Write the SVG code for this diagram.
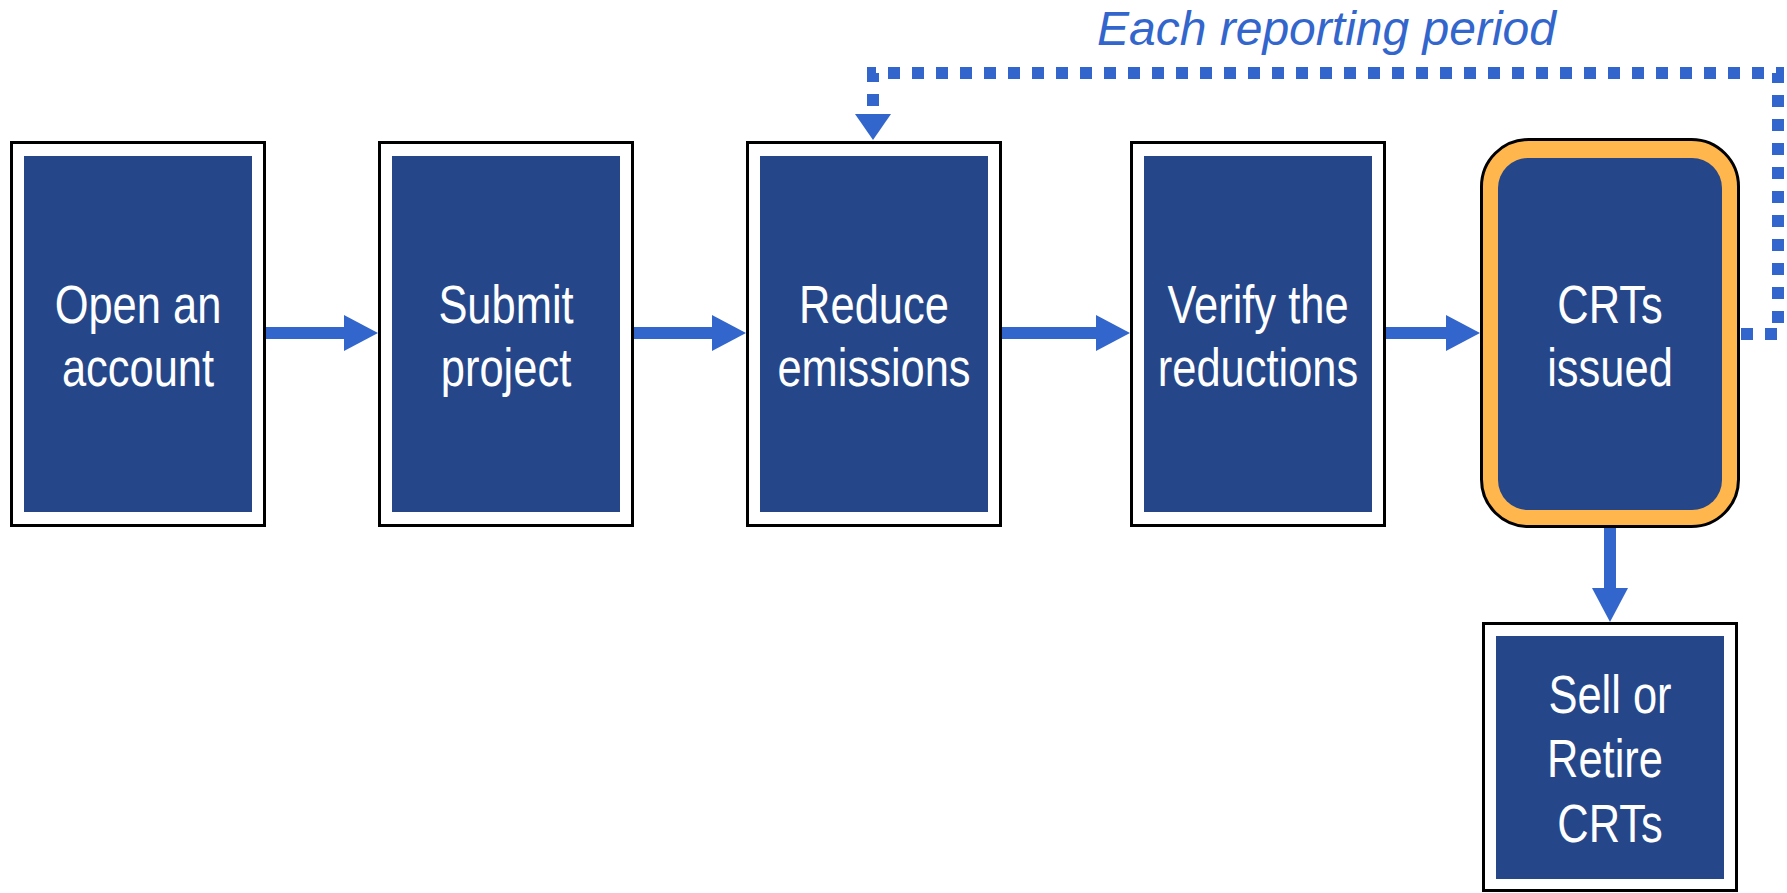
<svg xmlns="http://www.w3.org/2000/svg" width="1787" height="893" viewBox="0 0 1787 893">
<style>
.outer{fill:#ffffff;stroke:#000000;stroke-width:3}
.inner{fill:#25478A}
.lbl{font-family:"Liberation Sans Narrow","Arial Narrow","Liberation Sans",Arial,sans-serif;font-size:53px;fill:#ffffff;text-anchor:middle}
.conn{stroke:#3366CC;stroke-width:12;fill:none}
.dot{stroke:#3366CC;stroke-width:12;fill:none;stroke-dasharray:12 12}
.note{font-family:"Liberation Sans",Arial,sans-serif;font-style:italic;font-size:48px;fill:#3366CC}
</style>
<defs>
<marker id="ah" viewBox="0 0 34 36" refX="0" refY="18" markerWidth="34" markerHeight="36" markerUnits="userSpaceOnUse" orient="auto">
<path d="M0,0 L34,18 L0,36 Z" fill="#3366CC"/>
</marker>
<marker id="ahd" viewBox="0 0 26 36" refX="0" refY="18" markerWidth="26" markerHeight="36" markerUnits="userSpaceOnUse" orient="auto">
<path d="M0,0 L26,18 L0,36 Z" fill="#3366CC"/>
</marker>
</defs>
<rect width="1787" height="893" fill="#ffffff"/>
<g id="connectors">
<line class="conn" x1="266" y1="333" x2="344" y2="333" marker-end="url(#ah)"/>
<line class="conn" x1="634" y1="333" x2="712" y2="333" marker-end="url(#ah)"/>
<line class="conn" x1="1002" y1="333" x2="1096" y2="333" marker-end="url(#ah)"/>
<line class="conn" x1="1386" y1="333" x2="1446" y2="333" marker-end="url(#ah)"/>
<line class="conn" x1="1610" y1="528" x2="1610" y2="588" marker-end="url(#ah)"/>
<path class="dot" d="M1741,334 H1778 V73 H873 V114" marker-end="url(#ahd)"/>
<text class="note" x="1097" y="45">Each reporting period</text>
</g>
<g id="node-open">
<rect class="outer" x="11.5" y="142.5" width="253" height="383"/>
<rect class="inner" x="24" y="156" width="228" height="356"/>
<text class="lbl" transform="translate(138,323) scale(0.82,1)">Open an</text>
<text class="lbl" transform="translate(138,386) scale(0.82,1)">account</text>
</g>
<g id="node-submit">
<rect class="outer" x="379.5" y="142.5" width="253" height="383"/>
<rect class="inner" x="392" y="156" width="228" height="356"/>
<text class="lbl" transform="translate(506,323) scale(0.82,1)">Submit</text>
<text class="lbl" transform="translate(506,386) scale(0.82,1)">project</text>
</g>
<g id="node-reduce">
<rect class="outer" x="747.5" y="142.5" width="253" height="383"/>
<rect class="inner" x="760" y="156" width="228" height="356"/>
<text class="lbl" transform="translate(874,323) scale(0.82,1)">Reduce</text>
<text class="lbl" transform="translate(874,386) scale(0.82,1)">emissions</text>
</g>
<g id="node-verify">
<rect class="outer" x="1131.5" y="142.5" width="253" height="383"/>
<rect class="inner" x="1144" y="156" width="228" height="356"/>
<text class="lbl" transform="translate(1258,323) scale(0.82,1)">Verify the</text>
<text class="lbl" transform="translate(1258,386) scale(0.82,1)">reductions</text>
</g>
<g id="node-issued">
<rect x="1481.5" y="139.5" width="257" height="387" rx="47" ry="47" fill="#FFB74D" stroke="#000000" stroke-width="3"/>
<rect class="inner" x="1498" y="158" width="224" height="352" rx="30" ry="30"/>
<text class="lbl" transform="translate(1610,323) scale(0.82,1)">CRTs</text>
<text class="lbl" transform="translate(1610,386) scale(0.82,1)">issued</text>
</g>
<g id="node-sell">
<rect class="outer" x="1483.5" y="623.5" width="253" height="267"/>
<rect class="inner" x="1496" y="636" width="228" height="243"/>
<text class="lbl" transform="translate(1610,713) scale(0.82,1)">Sell or</text>
<text class="lbl" transform="translate(1605,777) scale(0.82,1)">Retire</text>
<text class="lbl" transform="translate(1610,842) scale(0.82,1)">CRTs</text>
</g>
</svg>
